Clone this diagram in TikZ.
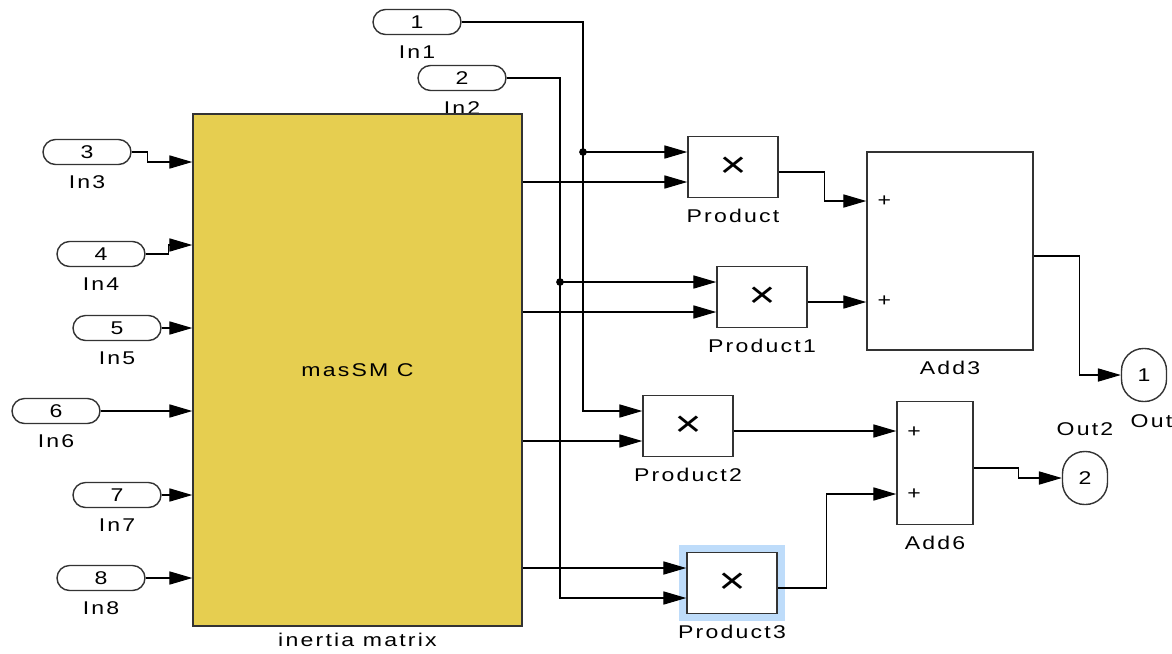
\documentclass[tikz,border=0pt]{standalone}
\usepackage{fontspec}
\setmainfont[FakeStretch=1.25,LetterSpace=12]{Liberation Sans}
\usetikzlibrary{arrows.meta, positioning, calc, backgrounds}

\definecolor{blockyellow}{RGB}{230,206,80}
\definecolor{selblue}{RGB}{190,220,250}
\newcommand{\timesmark}{{\fontsize{21}{21}\selectfont ×}}

\begin{document}
\begin{tikzpicture}[
  x=0.02cm, y=-0.02cm,
  font=\fontsize{10.5}{12}\selectfont,
  every label/.style={inner sep=0pt},
  lbl/.style={yshift=-0.2cm},
  inport/.style={
    rectangle, rounded corners=0.25cm,
    draw=black!80, line width=0.8pt, fill=white,
    minimum width=1.76cm, minimum height=0.5cm, inner sep=0pt
  },
  outport/.style={
    rectangle, rounded corners=0.44cm,
    draw=black!80, line width=0.8pt, fill=white,
    minimum width=0.9cm, minimum height=1.06cm, inner sep=0pt
  },
  prodbox/.style={
    rectangle, draw=black!80, line width=0.9pt, fill=white,
    minimum width=1.8cm, minimum height=1.22cm, inner sep=0pt
  },
  sumbox/.style={
    rectangle, draw=black!80, line width=0.9pt, fill=white,
    inner sep=0pt
  },
  subsys/.style={
    rectangle, draw=black!80, line width=0.9pt, fill=blockyellow,
    minimum width=6.58cm, minimum height=10.24cm, inner sep=0pt
  },
  arr/.style={-{Triangle[length=13pt,width=7.5pt]}, line width=0.6pt}
]
\useasboundingbox (0,0) rectangle (1172,653);

%% Inports
\node[inport, label={[lbl]below:In1}] (in1) at (417,22)  {1};
\node[inport, label={[lbl]below:In2}] (in2) at (462,78)  {2};
\node[inport, label={[lbl]below:In3}] (in3) at (87,152)  {3};
\node[inport, label={[lbl]below:In4}] (in4) at (101,254) {4};
\node[inport, label={[lbl]below:In5}] (in5) at (117,328) {5};
\node[inport, label={[lbl]below:In6}] (in6) at (56,411)  {6};
\node[inport, label={[lbl]below:In7}] (in7) at (117,495) {7};
\node[inport, label={[lbl]below:In8}] (in8) at (101,578) {8};

%% Subsystem
\node[subsys, label={[yshift=-0.12cm]below:inertia matrix}] (mass) at (357.5,370) {masSM C};
\foreach \k/\y in {3/162,4/245,5/328,6/411,7/495,8/578}
  \coordinate (m\k) at (mass.west |- 0,\y);

%% Products
\node[prodbox, label={[lbl]below:Product}]  (prod)  at (733,167) {\timesmark};
\node[prodbox, label={[lbl]below:Product1}] (prod1) at (762,297) {\timesmark};
\node[prodbox, label={[lbl]below:Product2}] (prod2) at (688,426) {\timesmark};
\node[prodbox, label={[lbl]below:Product3}] (prod3) at (732,583) {\timesmark};
\foreach \b in {prod,prod1,prod2,prod3} {
  \coordinate (\b-a) at ([yshift=0.3cm]\b.west);
  \coordinate (\b-b) at ([yshift=-0.3cm]\b.west);
  \coordinate (\b-o) at ([yshift=-0.1cm]\b.east);
}
\begin{scope}[on background layer]
  \fill[selblue] ([shift={(-0.14cm,0.14cm)}]prod3.north west)
    rectangle ([shift={(0.14cm,-0.14cm)}]prod3.south east);
\end{scope}

%% Sums
\node[sumbox, minimum width=3.32cm, minimum height=3.96cm,
      label={[lbl]below:Add3}] (add3) at (950,251) {};
\node[sumbox, minimum width=1.52cm, minimum height=2.46cm,
      label={[lbl]below:Add6}] (add6) at (935,463) {};
\coordinate (add3-a) at ([yshift=1cm]add3.west);
\coordinate (add3-b) at ([yshift=-1cm]add3.west);
\coordinate (add3-o) at ([yshift=-0.1cm]add3.east);
\coordinate (add6-a) at ([yshift=0.62cm]add6.west);
\coordinate (add6-b) at ([yshift=-0.62cm]add6.west);
\coordinate (add6-o) at ([yshift=-0.1cm]add6.east);
\node (plus1) at ([xshift=0.36cm]add3-a) {+};
\node (plus2) at ([xshift=0.36cm]add3-b) {+};
\node (plus3) at ([xshift=0.36cm]add6-a) {+};
\node (plus4) at ([xshift=0.36cm]add6-b) {+};

%% Outports
\node[outport, label={[xshift=0.3cm,yshift=-0.24cm]below:Out1}] (out1) at (1144,375) {1};
\node[outport, label={[yshift=0.3cm]above:Out2}] (out2) at (1085,478) {2};

%% Signals into the subsystem
\draw[arr] (in3.east) -- ++(16,0) |- (m3);
\draw[arr] (in4.east) -- ++(23,0) |- (m4);
\foreach \k in {5,6,7,8}
  \draw[arr] (in\k.east) -- (m\k);

%% Branches of In1 and In2
\coordinate (j1) at (prod-a -| 583,0);
\coordinate (j2) at (prod1-a -| 560,0);
\draw[arr] (in1.east) -| (j1) |- (prod2-a);
\draw[arr] (j1) -- (prod-a);
\draw[arr] (in2.east) -| (j2) |- (prod3-b);
\draw[arr] (j2) -- (prod1-a);
\fill (j1) circle (2.2pt);
\fill (j2) circle (2.2pt);

%% Subsystem outputs
\draw[arr] (prod-b -| mass.east)  -- (prod-b);
\draw[arr] (prod1-b -| mass.east) -- (prod1-b);
\draw[arr] (prod2-b -| mass.east) -- (prod2-b);
\draw[arr] (prod3-a -| mass.east) -- (prod3-a);

%% Products to sums
\draw[arr] (prod-o) -- ++(46,0) |- (add3-a);
\draw[arr] (prod1-o) -- (prod1-o -| add3.west);
\draw[arr] (prod2-o) -- (prod2-o -| add6.west);
\draw[arr] (prod3-o) -- ++(49,0) |- (add6-b);

%% Sums to outports
\draw[arr] (add3-o) -- ++(46,0) |- (out1.west);
\draw[arr] (add6-o) -- ++(45,0) |- (out2.west);

\end{tikzpicture}
\end{document}
